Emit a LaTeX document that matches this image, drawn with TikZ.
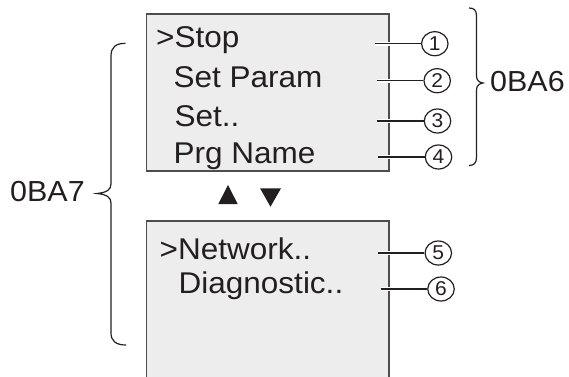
\documentclass[tikz,border=0pt]{standalone}
\usepackage{fontspec}
\setmainfont{Liberation Sans}[FakeStretch=1.05]
\usetikzlibrary{shapes.geometric}
\definecolor{ink}{HTML}{231F20}
\definecolor{panel}{HTML}{EDEDED}
\definecolor{frame}{HTML}{4D4D4D}
\begin{document}
\begin{tikzpicture}[x=1pt,y=-1pt,
  screen/.style={fill=panel,draw=frame,line width=1.3pt},
  menutext/.style={anchor=base west,inner sep=0pt,text=ink,font=\fontsize{30}{30}\selectfont},
  labeltext/.style={anchor=base west,inner sep=0pt,text=ink,font=\fontsize{29}{30}\selectfont},
  callout/.style={draw=ink,line width=1.2pt,ellipse,inner sep=0pt,minimum width=26.5pt,minimum height=24pt,text=ink,font=\fontsize{20}{20}\selectfont},
  leaderhalo/.style={white,line width=3.6pt},
  leader/.style={ink,line width=1.2pt},
  bracestyle/.style={ink,line width=1.2pt},
  tri/.style={fill=ink,draw=none}]
\useasboundingbox (0,0) rectangle (569,376);
\begin{scope}
\clip (0,0) rectangle (569,376);
\draw[screen] (146.5,14) rectangle (389,171);
\draw[screen] (146.5,221) rectangle (389,390);
\end{scope}
% menu texts
\node[menutext] (t1) at (156,47.3) {>Stop};
\node[menutext] (t2) at (173.5,87.3) {Set Param};
\node[menutext] (t3) at (174.5,126) {Set..};
\node[menutext] (t4) at (173.5,163.3) {Prg Name};
\node[menutext] (t5) at (159.5,259.3) {>Network..};
\node[menutext] (t6) at (178.5,293.3) {Diagnostic..};
% callouts
\node[callout] (c1) at (434.8,43.7) {1};
\node[callout] (c2) at (437.2,80.7) {2};
\node[callout] (c3) at (437.5,121) {3};
\node[callout] (c4) at (438.5,157) {4};
\node[callout] (c5) at (438.3,253) {5};
\node[callout] (c6) at (441,289) {6};
% leader start points
\coordinate (s1) at (375,43.7);
\coordinate (s2) at (376.7,80.7);
\coordinate (s3) at (377,121);
\coordinate (s4) at (378,157);
\coordinate (s5) at (378,253);
\coordinate (s6) at (380.7,289);
\foreach \n in {1,...,6}{
  \draw[leaderhalo] (s\n) -- ++(20,0);
}
\foreach \n in {1,...,6}{
  \draw[leader] (s\n) -- (c\n.west);
}
% braces
\draw[bracestyle] (469,8) .. controls (474,8) and (476.5,10) .. (476.5,16)
  -- (476.5,76) .. controls (476.5,80) and (479,82.5) .. (483,83)
  .. controls (479,83.5) and (476.5,86) .. (476.5,90)
  -- (476.5,157) .. controls (476.5,163) and (474,165.5) .. (469,165.5);
\node[labeltext] (l6) at (490,91.7) {0BA6};
\draw[bracestyle] (125.5,43.3) .. controls (116,43.3) and (111,47) .. (111,56)
  -- (111,184) .. controls (111,189.5) and (107,192.5) .. (97,193.5)
  .. controls (107,194.5) and (111,197.5) .. (111,203)
  -- (111,333) .. controls (111,341) and (116,345) .. (126,345);
\node[labeltext] (l7) at (10,201.7) {0BA7};
% arrows
\fill[tri] (218.3,204) -- (228,185) -- (237.7,204) -- cycle;
\fill[tri] (260,188.3) -- (281,188.3) -- (270.5,206.7) -- cycle;
\end{tikzpicture}
\end{document}
